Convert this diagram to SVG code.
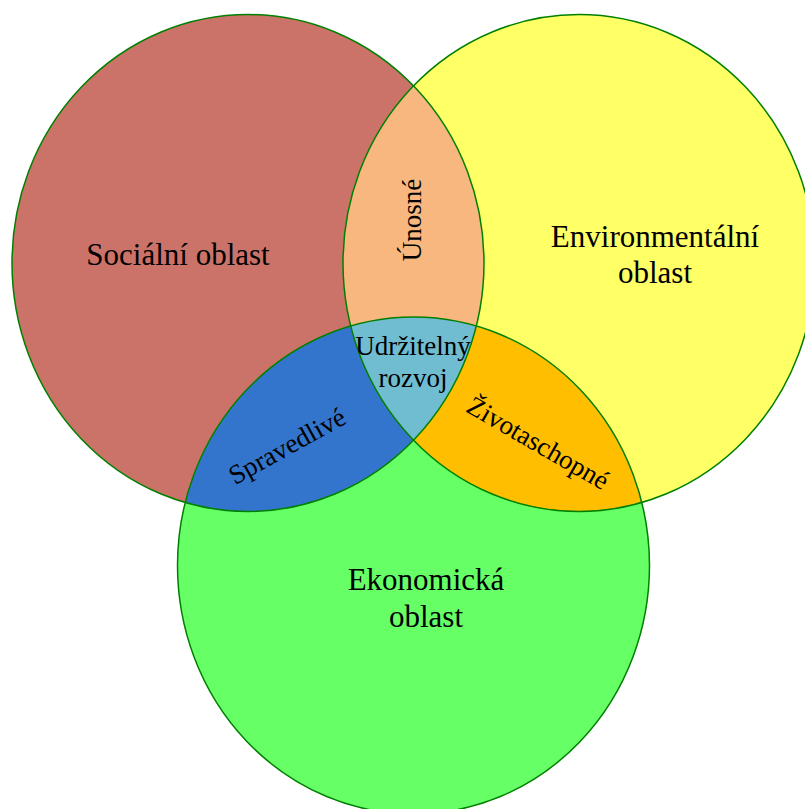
<svg xmlns="http://www.w3.org/2000/svg" width="805" height="809" viewBox="0 0 805 809">
  <style>
    .lbl { font-family: "Liberation Serif", "Times New Roman", serif; fill: #000; text-anchor: middle; }
    .big { font-size: 31px; }
    .small { font-size: 27px; }
    .edge { fill: none; stroke: #008000; stroke-width: 1.5; }
  </style>
  <defs>
    <clipPath id="clipS"><ellipse cx="248" cy="263" rx="236" ry="248.5"/></clipPath>
    <clipPath id="clipE"><ellipse cx="579" cy="263" rx="236" ry="248.5"/></clipPath>
  </defs>
  <rect width="805" height="809" fill="#fff"/>
  <g id="social">
    <ellipse cx="248" cy="263" rx="236" ry="248.5" fill="#CC7369"/>
  </g>
  <g id="environmental">
    <ellipse cx="579" cy="263" rx="236" ry="248.5" fill="#FFFF66"/>
  </g>
  <g id="economic">
    <ellipse cx="413.5" cy="565.5" rx="236" ry="248.5" fill="#66FF66"/>
  </g>
  <g id="unosne">
    <ellipse cx="579" cy="263" rx="236" ry="248.5" fill="#F7B77F" clip-path="url(#clipS)"/>
  </g>
  <g id="spravedlive">
    <ellipse cx="413.5" cy="565.5" rx="236" ry="248.5" fill="#3375CC" clip-path="url(#clipS)"/>
  </g>
  <g id="zivotaschopne">
    <ellipse cx="413.5" cy="565.5" rx="236" ry="248.5" fill="#FFBF00" clip-path="url(#clipE)"/>
  </g>
  <g id="udrzitelny">
    <g clip-path="url(#clipE)">
      <ellipse cx="413.5" cy="565.5" rx="236" ry="248.5" fill="#70BCD0" clip-path="url(#clipS)"/>
    </g>
  </g>
  <g id="connectors">
    <ellipse class="edge" cx="248" cy="263" rx="236" ry="248.5"/>
    <ellipse class="edge" cx="579" cy="263" rx="236" ry="248.5"/>
    <ellipse class="edge" cx="413.5" cy="565.5" rx="236" ry="248.5"/>
  </g>
  <g id="labels">
    <text class="lbl big" x="178" y="265">Sociální oblast</text>
    <text class="lbl big" x="655" y="247">Environmentální</text>
    <text class="lbl big" x="655" y="283">oblast</text>
    <text class="lbl big" x="426" y="590">Ekonomická</text>
    <text class="lbl big" x="426" y="627">oblast</text>
    <text class="lbl small" transform="translate(412,220) rotate(-90)" x="0" y="9">Únosné</text>
    <text class="lbl small" x="413" y="355">Udržitelný</text>
    <text class="lbl small" x="413" y="387">rozvoj</text>
    <text class="lbl small" transform="translate(287,446) rotate(-29)" x="0" y="9">Spravedlivé</text>
    <text class="lbl small" transform="translate(538,443) rotate(30)" x="0" y="9">Životaschopné</text>
  </g>
</svg>
